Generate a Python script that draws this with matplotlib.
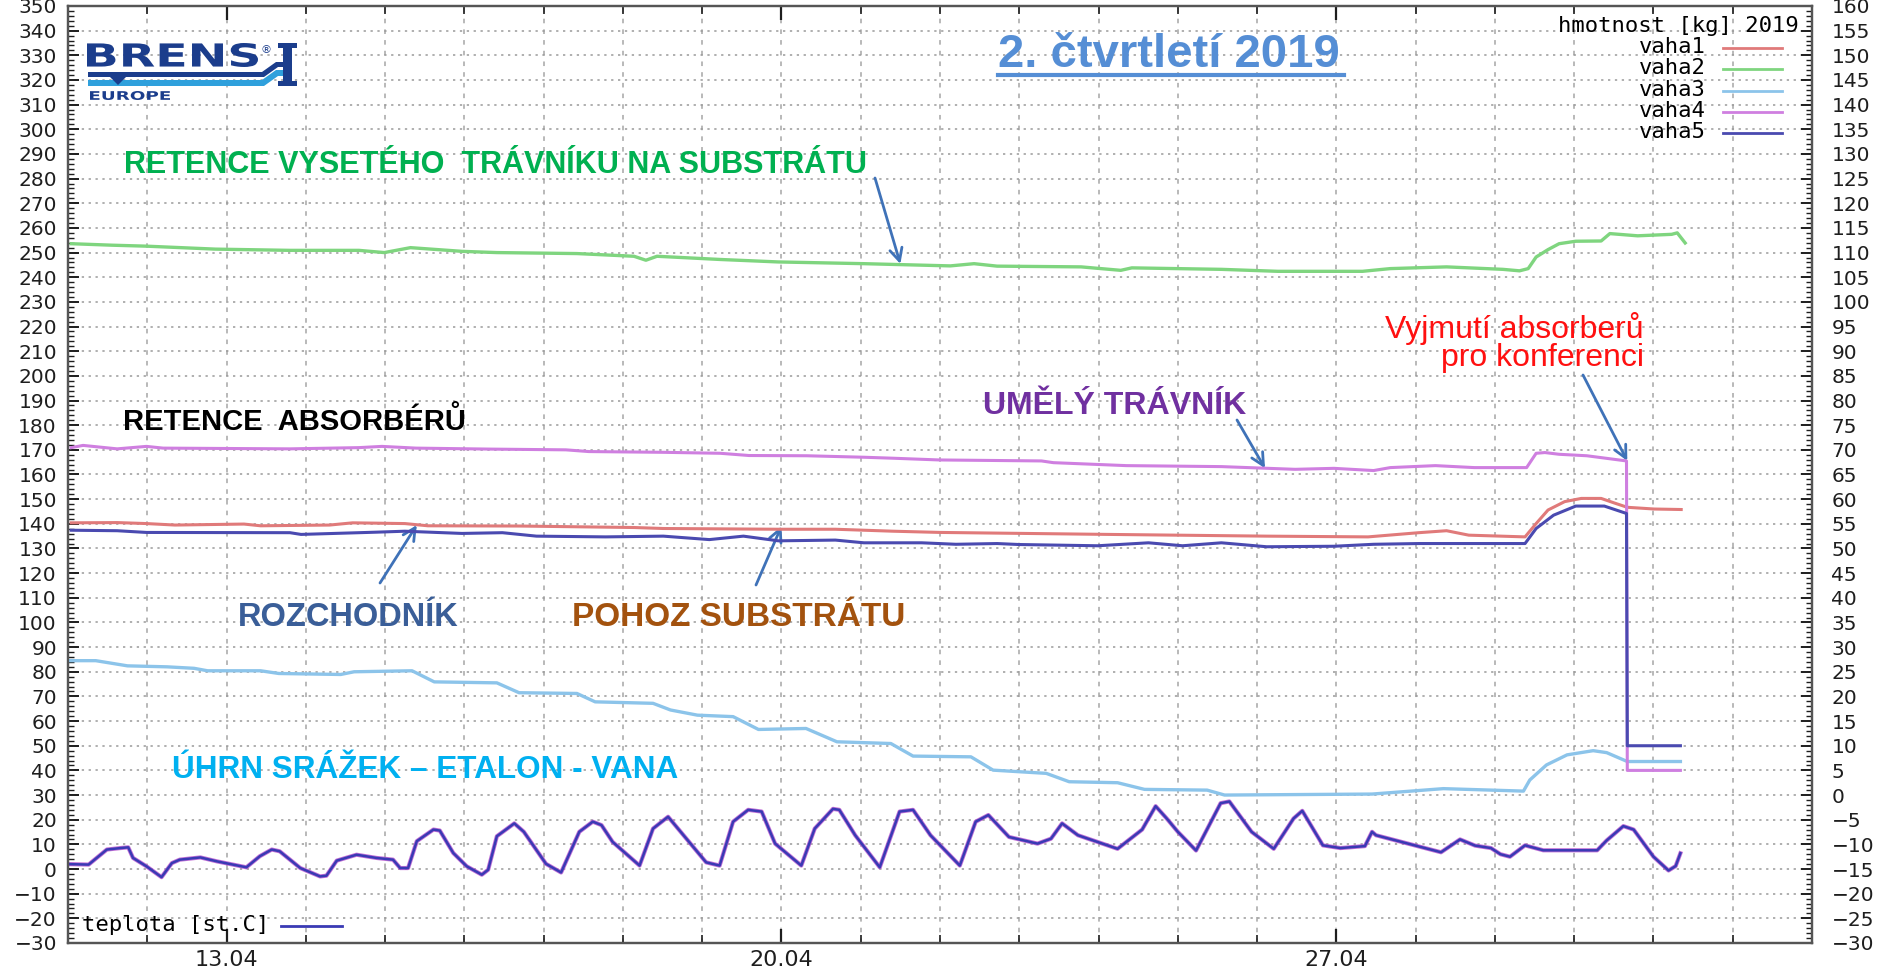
import matplotlib
matplotlib.use("Agg")
import matplotlib.pyplot as plt
from matplotlib import font_manager
from matplotlib.font_manager import FontProperties
from matplotlib.lines import Line2D
from matplotlib.patches import PathPatch, Polygon, Rectangle
from matplotlib.textpath import TextPath
from matplotlib.transforms import Affine2D, IdentityTransform
from matplotlib.ticker import MultipleLocator, FixedLocator

W, H = 1884, 974

# x = days since 11.04.2019 00:00
tick_days = [2, 9, 16]
tick_labels = ["13.04", "20.04", "27.04"]

# hmotnost [kg] (right axis)
vaha1_t = [0.04, 0.62, 0.99, 1.35, 2.22, 2.43, 3.30, 3.59, 4.25, 4.54, 5.70, 7.14, 7.51, 8.96, 9.68,
           10.41, 11.01, 12.07, 13.13, 15.12, 16.40, 17.04, 17.39, 17.67, 18.38, 18.52, 18.67, 18.88,
           19.09, 19.34, 19.52, 19.67, 20.01, 20.35]
vaha1 = [55.2, 55.25, 55.05, 54.75, 54.95, 54.6, 54.75, 55.2, 55.05, 54.6, 54.55, 54.25, 54.05, 53.9, 53.9,
         53.5, 53.25, 53.05, 52.85, 52.5, 52.35, 53.2, 53.6, 52.7, 52.35, 55.05, 57.8, 59.5,
         60.15, 60.15, 59.15, 58.35, 58.0, 57.9]

vaha2_t = [0.04, 0.55, 0.99, 1.86, 2.80, 3.67, 3.99, 4.32, 4.97, 5.41, 6.42, 7.14, 7.29, 7.43, 8.23,
           8.96, 10.04, 11.13, 11.43, 11.72, 12.78, 13.28, 13.42, 14.55, 15.26, 16.33, 16.68, 17.39,
           18.10, 18.31, 18.42, 18.52, 18.67, 18.81, 19.02, 19.34, 19.45, 19.80, 20.23, 20.30, 20.40]
vaha2 = [111.8, 111.5, 111.3, 110.7, 110.45, 110.45, 110.0, 111.0, 110.25, 110.0, 109.8, 109.25, 108.45,
         109.25, 108.6, 108.1, 107.75, 107.3, 107.75, 107.25, 107.1, 106.4, 106.9, 106.6, 106.2, 106.2,
         106.75, 107.1, 106.6, 106.3, 106.75, 109.1, 110.6, 111.8, 112.3, 112.35, 113.85, 113.4, 113.7,
         114.0, 111.95]

vaha3_t = [0.02, 0.35, 0.75, 1.25, 1.59, 1.76, 2.43, 2.66, 3.44, 3.61, 4.34, 4.62, 5.41, 5.69, 6.42,
           6.65, 7.38, 7.60, 7.94, 8.39, 8.71, 9.31, 9.70, 10.38, 10.66, 11.39, 11.67, 12.34, 12.63,
           13.24, 13.58, 14.37, 14.59, 16.45, 17.35, 18.36, 18.44, 18.65, 18.91, 19.24, 19.41, 19.67,
           20.34]
vaha3 = [27.25, 27.25, 26.2, 26.0, 25.7, 25.2, 25.2, 24.65, 24.45, 25.0, 25.2, 22.95, 22.75, 20.75, 20.6,
         18.9, 18.6, 17.25, 16.2, 15.9, 13.3, 13.5, 10.8, 10.45, 7.9, 7.75, 5.05, 4.4, 2.7,
         2.5, 1.15, 1.0, 0.0, 0.2, 1.3, 0.8, 3.05, 6.1, 8.15, 9.0, 8.6, 6.8,
         6.8]

vaha4_t = [0.04, 0.19, 0.62, 0.99, 1.20, 2.80, 3.67, 3.96, 4.39, 5.33, 6.28, 6.57, 7.51, 8.23, 8.59,
           9.32, 10.04, 10.41, 10.99, 12.28, 12.43, 13.35, 14.55, 15.48, 15.97, 16.47, 16.68, 17.25,
           17.74, 18.40, 18.52, 18.63, 18.81, 19.16, 19.66, 19.67, 20.34]
vaha4 = [70.45, 70.9, 70.2, 70.7, 70.35, 70.2, 70.45, 70.7, 70.35, 70.15, 70.0, 69.65, 69.5, 69.3, 68.85,
         68.8, 68.5, 68.3, 67.95, 67.75, 67.4, 66.8, 66.6, 66.05, 66.25, 65.8, 66.4, 66.8,
         66.4, 66.4, 69.3, 69.45, 69.1, 68.8, 67.75, 5.0, 5.0]

vaha5_t = [0.04, 0.62, 0.99, 2.80, 2.94, 3.88, 4.25, 4.97, 5.48, 5.91, 6.78, 7.51, 8.09, 8.52, 8.96,
           9.68, 10.04, 10.77, 11.20, 11.72, 12.0, 12.99, 13.63, 14.06, 14.55, 15.12, 15.97, 16.47,
           17.04, 18.38, 18.52, 18.74, 19.02, 19.38, 19.66, 19.67, 20.34]
vaha5 = [53.7, 53.6, 53.25, 53.2, 52.85, 53.3, 53.5, 53.05, 53.2, 52.5, 52.35, 52.5, 51.8, 52.5, 51.55,
         51.7, 51.15, 51.15, 50.85, 51.0, 50.8, 50.55, 51.15, 50.55, 51.15, 50.35, 50.45, 50.85,
         51.0, 51.0, 54.05, 56.75, 58.6, 58.6, 57.1, 10.0, 10.0]

# teplota [st.C] (left axis)
teplota_t = [0.0, 0.26, 0.49, 0.66, 0.76, 0.82, 0.99, 1.18, 1.31, 1.41, 1.67, 1.88, 2.25, 2.42, 2.57,
             2.67, 2.93, 3.18, 3.26, 3.39, 3.64, 3.89, 4.10, 4.19, 4.29, 4.40, 4.61, 4.69, 4.86, 5.03,
             5.22, 5.30, 5.41, 5.63, 5.75, 6.03, 6.22, 6.45, 6.62, 6.73, 6.87, 7.21, 7.38, 7.57, 8.05,
             8.22, 8.39, 8.58, 8.75, 8.92, 9.25, 9.42, 9.65, 9.73, 9.93, 10.24, 10.49, 10.66, 10.88,
             11.25, 11.45, 11.61, 11.87, 12.23, 12.40, 12.54, 12.74, 13.24, 13.55, 13.72, 13.86, 14.00,
             14.23, 14.54, 14.65, 14.93, 15.21, 15.46, 15.57, 15.83, 16.05, 16.36, 16.45, 16.50, 17.32,
             17.56, 17.75, 17.95, 18.07, 18.19, 18.38, 18.61, 19.29, 19.41, 19.62, 19.75, 20.00, 20.19,
             20.28, 20.34]
teplota = [2.0, 1.8, 7.9, 8.5, 8.8, 4.5, 1.1, -3.3, 2.4, 3.8, 4.7, 3.1, 0.7, 5.2, 7.9,
           7.2, 0.4, -3.0, -2.7, 3.4, 5.8, 4.5, 3.8, 0.4, 0.4, 11.3, 16.0, 15.6, 6.5, 1.1,
           -2.3, -0.3, 13.3, 18.5, 15.1, 2.1, -1.4, 15.1, 19.2, 17.8, 11.0, 1.4, 16.4, 21.2, 2.7,
           1.4, 19.2, 24.0, 23.3, 10.3, 1.4, 16.4, 24.4, 24.0, 13.7, 0.7, 23.3, 24.0, 13.7,
           1.4, 19.2, 21.9, 13.0, 10.3, 12.3, 18.5, 13.7, 8.2, 16.0, 25.5, 20.5, 15.1,
           7.5, 26.7, 27.4, 15.1, 8.2, 20.5, 23.6, 9.6, 8.5, 9.3, 15.1, 13.7, 6.8,
           12.0, 9.5, 8.5, 6.0, 5.0, 9.6, 7.6, 7.6, 11.6, 17.4, 16.0, 5.0, -0.6,
           1.2, 6.4]

weight_names = ["vaha1", "vaha2", "vaha3", "vaha4", "vaha5"]

names = {f.name for f in font_manager.fontManager.ttflist}
narrow = "Liberation Sans Narrow" if "Liberation Sans Narrow" in names else "Liberation Sans"
mono = FontProperties(family="DejaVu Sans Mono", size=16)

fig = plt.figure(figsize=(W / 100, H / 100), dpi=100)
ax = fig.add_axes([68 / W, 1 - 943 / H, (1812 - 68) / W, (943 - 6) / H])
ax2 = ax.twinx()

ax.set_xlim(0, 22)
ax.set_ylim(-30, 350)
ax2.set_ylim(-30, 160)

ax.xaxis.set_major_locator(FixedLocator(tick_days))
ax.xaxis.set_minor_locator(MultipleLocator(1))
ax.set_xticklabels(tick_labels)
ax.yaxis.set_major_locator(MultipleLocator(10))
ax.yaxis.set_minor_locator(MultipleLocator(2))
ax2.yaxis.set_major_locator(MultipleLocator(5))
ax2.yaxis.set_minor_locator(MultipleLocator(1))

ax.grid(axis="y", which="major", color="#9a9a9a", linestyle=(0, (1.5, 3)), lw=1.1)
ax.grid(axis="x", which="both", color="#a5a5a5", linestyle=(0, (3, 4)), lw=1.1)

tick_col = "#1e1e1e"
ax.tick_params(axis="y", which="major", direction="in", length=8, width=1.4, labelsize=14.5,
               pad=8, colors=tick_col, right=False)
ax.tick_params(axis="y", which="minor", direction="in", length=4, width=1.0, colors=tick_col, right=False)
ax.tick_params(axis="x", which="major", direction="in", length=10, width=1.6, labelsize=16,
               pad=5, top=True, colors=tick_col)
ax.tick_params(axis="x", which="minor", direction="in", length=6, width=1.2, top=True, colors=tick_col)
ax2.tick_params(axis="y", which="major", direction="in", length=8, width=1.4, labelsize=14.5,
                pad=14, colors=tick_col)
ax2.tick_params(axis="y", which="minor", direction="in", length=4, width=1.0, colors=tick_col)
for a in (ax, ax2):
    for s in a.spines.values():
        s.set_color("#555555")
        s.set_linewidth(1.6)

# temperature (several sensors overlap, drawn as two strokes)
ax.plot(teplota_t, teplota, color="#b24ccc", lw=3.0, alpha=0.8)
t_line, = ax.plot(teplota_t, teplota, color="#3a3ab4", lw=1.8)

# weights
l1, = ax2.plot(vaha1_t, vaha1, color="#e07a7a", lw=2.2)
l2, = ax2.plot(vaha2_t, vaha2, color="#7fd57f", lw=2.4)
l3, = ax2.plot(vaha3_t, vaha3, color="#8cc4ea", lw=2.4)
l4, = ax2.plot(vaha4_t, vaha4, color="#cf7fe0", lw=2.2)
l5, = ax2.plot(vaha5_t, vaha5, color="#4a4ab0", lw=2.2)


def fx(x):
    return x / W


def fy(y):
    return 1 - y / H


# gnuplot-style keys
fig.text(fx(1799), fy(26), "hmotnost [kg] 2019", fontproperties=mono, color="black",
         ha="right", va="center")
for i, (ln, nm) in enumerate(zip([l1, l2, l3, l4, l5], weight_names)):
    yy = 47 + i * 21.3
    fig.text(fx(1706), fy(yy), nm, fontproperties=mono, color="black", ha="right", va="center")
    fig.add_artist(Line2D([fx(1723), fx(1782)], [fy(yy + 1), fy(yy + 1)], color=ln.get_color(), lw=2))
fig.text(fx(82), fy(925), "teplota [st.C]", fontproperties=mono, color="black", ha="left", va="center")
fig.add_artist(Line2D([fx(281), fx(342)], [fy(926), fy(926)], color=t_line.get_color(), lw=2))

# title
title_col = "#558ed5"
fig.text(fx(998), fy(67), "2. čtvrtletí 2019", color=title_col, fontsize=34, fontweight="bold",
         family="Liberation Sans", ha="left", va="baseline")
fig.add_artist(Line2D([fx(998), fx(1344)], [fy(75), fy(75)], color=title_col, lw=3))

# labels
big = dict(fontweight="bold", family=[narrow, "Liberation Sans"], ha="left", va="baseline")
fig.text(fx(124), fy(173), "RETENCE VYSETÉHO  TRÁVNÍKU NA SUBSTRÁTU", color="#00b050", fontsize=22, **big)
fig.text(fx(123), fy(430), "RETENCE  ABSORBÉRŮ", color="black", fontsize=21, **big)
fig.text(fx(983), fy(414), "UMĚLÝ TRÁVNÍK", color="#7030a0", fontsize=23, **big)
fig.text(fx(238), fy(626), "ROZCHODNÍK", color="#3a5e98", fontsize=23.5, **big)
fig.text(fx(572), fy(626), "POHOZ SUBSTRÁTU", color="#a3520e", fontsize=24, **big)
fig.text(fx(172), fy(778), "ÚHRN SRÁŽEK – ETALON - VANA", color="#00b0f0", fontsize=22.7, **big)
red = dict(color="#ff1010", fontsize=23, family="Liberation Sans", ha="right", va="baseline")
fig.text(fx(1644), fy(338), "Vyjmutí absorberů", **red)
fig.text(fx(1644), fy(366), "pro konferenci", **red)

# arrows: start in figure pixels, tip on the data
arrow = dict(arrowstyle="->,head_length=0.9,head_width=0.45", color="#3f72b8", lw=2,
             shrinkA=0, shrinkB=0)
arrows = [((875, 178), (10.5, 245.4)),
          ((1237, 420), (15.1, 162.5)),
          ((1583, 375), (19.67, 165.5)),
          ((380, 583), (4.4, 139.5)),
          ((756, 585), (9.0, 139.0))]
for (sx, sy), tip in arrows:
    ax.annotate("", xy=tip, xycoords="data", xytext=(sx, H - sy), textcoords="figure pixels",
                arrowprops=arrow)

# BRENS logo
navy = "#1b3d8c"
light = "#2fa0dc"
px = IdentityTransform()


def path_text(s, x0, y0, x1, y1, color):
    tp = TextPath((0, 0), s, size=1, prop=FontProperties(family="DejaVu Sans", weight="bold"))
    e = tp.get_extents()
    tr = Affine2D().translate(-e.x0, -e.y0).scale((x1 - x0) / e.width, (y1 - y0) / e.height) \
        .translate(x0, H - y1)
    fig.add_artist(PathPatch(tr.transform_path(tp), transform=px, color=color, lw=0))


path_text("BRENS", 87, 43, 258, 67, navy)
path_text("EUROPE", 90, 91, 170, 100, navy)
fig.text(fx(260), fy(53), "®", color=navy, fontsize=8, ha="left", va="baseline")
fig.add_artist(Polygon([(88, H - 72), (262, H - 72), (276, H - 62), (283, H - 62), (283, H - 67),
                        (278, H - 67), (264, H - 77), (88, H - 77)], closed=True, transform=px,
                       color=navy, lw=0))
fig.add_artist(Polygon([(88, H - 80), (262, H - 80), (276, H - 70), (283, H - 70), (283, H - 76),
                        (278, H - 76), (264, H - 86), (88, H - 86)], closed=True, transform=px,
                       color=light, lw=0))
fig.add_artist(Polygon([(110, H - 77), (126, H - 77), (118, H - 85)], closed=True, transform=px,
                       color=navy, lw=0))
fig.add_artist(Rectangle((283, H - 86), 9, 43, transform=px, color=navy, lw=0))
fig.add_artist(Rectangle((278, H - 48), 19, 5, transform=px, color=navy, lw=0))
fig.add_artist(Rectangle((278, H - 86), 19, 5, transform=px, color=navy, lw=0))

fig.savefig("out.png", dpi=100)
